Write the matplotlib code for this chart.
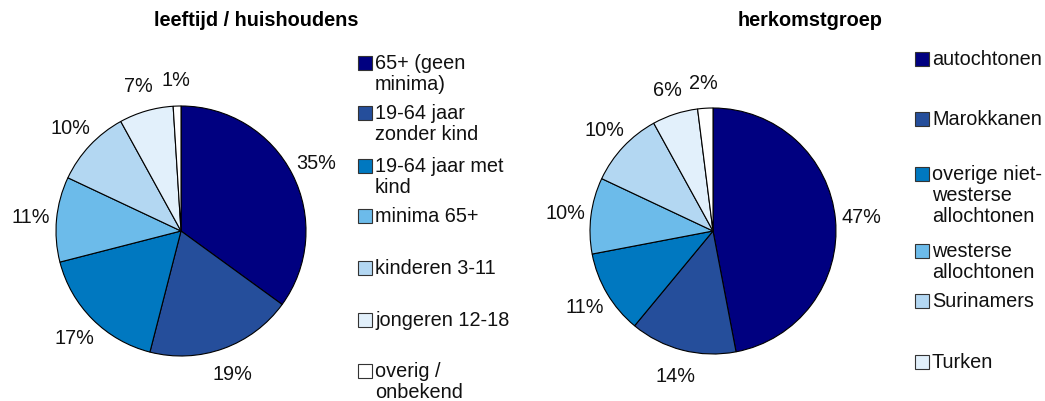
import matplotlib
matplotlib.use("Agg")
import matplotlib.pyplot as plt
from matplotlib.patches import Rectangle

plt.rcParams['font.family'] = ['Liberation Sans', 'DejaVu Sans']

# ---- data ----
title_left = "leeftijd / huishoudens"
labels_left = ["65+ (geen\nminima)", "19-64 jaar\nzonder kind", "19-64 jaar met\nkind",
               "minima 65+", "kinderen 3-11", "jongeren 12-18", "overig /\nonbekend"]
values_left = [35, 19, 17, 11, 10, 7, 1]

title_right = "herkomstgroep"
labels_right = ["autochtonen", "Marokkanen", "overige niet-\nwesterse\nallochtonen",
                "westerse\nallochtonen", "Surinamers", "Turken"]
values_right = [47, 14, 11, 10, 10, 6, 2]

colors = ["#000080", "#254E9B", "#0078C0", "#6CBBEA", "#B3D7F2", "#E2F0FB", "#FFFFFF"]

W, H = 1045, 402
fig = plt.figure(figsize=(W / 100, H / 100), dpi=100)
FS = 14.3


def px_axes(cx, cy, r):
    return fig.add_axes([(cx - r) / W, 1 - (cy + r) / H, 2 * r / W, 2 * r / H])


def draw_pie(ax, values):
    ax.pie(values, colors=colors[:len(values)], startangle=90, counterclock=False,
           radius=1.0, autopct=lambda p: f"{p:.0f}%", pctdistance=1.21,
           wedgeprops=dict(edgecolor="black", linewidth=0.8),
           textprops=dict(fontsize=FS, color="#111111"))
    ax.set_xlim(-1, 1)
    ax.set_ylim(-1, 1)
    ax.axis("off")


axL = px_axes(181, 232, 125)
draw_pie(axL, values_left)
axR = px_axes(713, 232, 123)
draw_pie(axR, values_right)

fig.text(256 / W, 1 - 20 / H, title_left, ha="center", va="center",
         fontsize=FS, fontweight="bold")
fig.text(810 / W, 1 - 20 / H, title_right, ha="center", va="center",
         fontsize=FS, fontweight="bold")


def legend(labels, sq_x, text_x, centers, cols):
    s = 14
    for lab, cy, c in zip(labels, centers, cols):
        fig.patches.append(Rectangle((sq_x / W, 1 - (cy + s / 2) / H), s / W, s / H,
                                     transform=fig.transFigure, facecolor=c,
                                     edgecolor="#333333", linewidth=0.8))
        fig.text(text_x / W, 1 - (cy - 10) / H, lab, ha="left", va="top",
                 fontsize=FS, linespacing=1.15, color="#111111")


legend(labels_left, 358, 375, [64, 114, 167, 217, 269, 321, 372], colors)
legend(labels_right, 915, 932, [60, 120, 175, 252, 302, 363], colors[:6])

fig.savefig("out.png", dpi=100)
